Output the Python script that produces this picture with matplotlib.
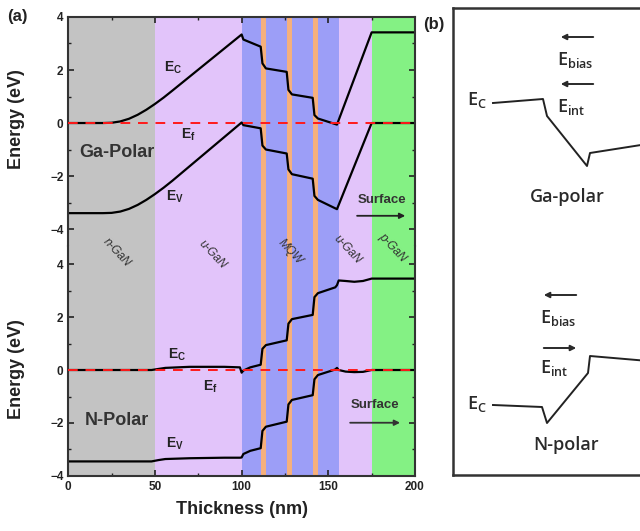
import matplotlib
matplotlib.use('Agg')
import matplotlib.pyplot as plt
from matplotlib.ticker import MultipleLocator

plt.rcParams['font.family'] = ['Liberation Sans', 'DejaVu Sans']
plt.rcParams['mathtext.fontset'] = 'custom'
plt.rcParams['mathtext.rm'] = 'Liberation Sans'
plt.rcParams['mathtext.bf'] = 'Liberation Sans:bold'
plt.rcParams['mathtext.sf'] = 'Open Sans:semibold'

# layer stack (nm)
layer_names = ['n-GaN', 'u-GaN', 'MQW', 'u-GaN', 'p-GaN']
layer_start = [0, 50, 100, 156, 175]
layer_end = [50, 100, 156, 175, 200]
layer_colors = ['#c3c3c3', '#e2c4fa', '#9c9ef7', '#e2c4fa', '#84f184']
well_start = [111, 126, 141]
well_end = [114, 129, 144]
well_color = '#f6b07c'
ef_level = 0.0

# Ga-polar band edges (eV)
ga_x = [0, 20, 25, 30, 35, 40, 45, 50, 55, 60, 100, 101, 111, 112, 114, 126, 127, 129, 141, 142, 144, 155, 175, 200]
ga_ec = [0, 0, 0.01, 0.06, 0.16, 0.31, 0.5, 0.72, 0.96, 1.22, 3.34, 3.15, 2.88, 2.25, 2.06, 1.93, 1.25, 1.08, 0.95, 0.3, 0.17, -0.06, 3.42, 3.42]
ga_ev = [-3.4, -3.4, -3.39, -3.34, -3.24, -3.09, -2.9, -2.68, -2.44, -2.18, 0.02, -0.08, -0.2, -0.85, -1.0, -1.15, -1.75, -1.93, -2.1, -2.75, -2.9, -3.25, 0.0, 0.0]

# N-polar band edges (eV)
n_x = [0, 48, 52, 56, 70, 90, 99, 100, 101, 105, 111, 112, 114, 126, 127, 129, 141, 142, 144, 154, 155, 156, 160, 165, 170, 175, 200]
n_ec = [0, 0, 0.04, 0.08, 0.12, 0.12, 0.1, -0.1, -0.02, 0.1, 0.2, 0.8, 0.94, 1.12, 1.75, 1.92, 2.08, 2.75, 2.9, 3.12, 3.2, 3.38, 3.36, 3.33, 3.36, 3.45, 3.45]
n_ev = [-3.45, -3.45, -3.4, -3.36, -3.33, -3.31, -3.31, -3.3, -3.17, -3.05, -2.95, -2.3, -2.14, -1.95, -1.3, -1.13, -0.95, -0.35, -0.19, 0.02, 0.08, 0.0, -0.06, -0.08, -0.07, 0.0, 0.0]

# schematic conduction band in panel (b), pixel-like units
ga_sketch_x = [493, 543, 547, 587, 590, 660]
ga_sketch_y = [103, 99, 116, 166, 153, 142]
n_sketch_x = [493, 542, 547, 588, 590, 660]
n_sketch_y = [405, 407, 423, 373, 356, 362]

dark = '#222222'

fig = plt.figure(figsize=(6.4, 5.31), dpi=100)
ax_top = fig.add_axes([0.1067, 0.5367, 0.5417, 0.4313])
ax_bot = fig.add_axes([0.1067, 0.1036, 0.5417, 0.4331])


def draw_panel(ax, x, ec, ev):
    for s, e, c in zip(layer_start, layer_end, layer_colors):
        ax.axvspan(s, e, color=c, lw=0, zorder=0)
    for s, e in zip(well_start, well_end):
        ax.axvspan(s, e, color=well_color, lw=0, zorder=0)
    ax.plot(x, ec, color='k', lw=1.6, zorder=2)
    ax.plot(x, ev, color='k', lw=1.6, zorder=2)
    ax.axhline(ef_level, color='#ff1a1a', lw=1.4, ls=(0, (5, 4)), zorder=3)
    ax.set_xlim(0, 200)
    ax.xaxis.set_major_locator(MultipleLocator(50))
    ax.xaxis.set_minor_locator(MultipleLocator(25))
    ax.yaxis.set_major_locator(MultipleLocator(2))
    ax.yaxis.set_minor_locator(MultipleLocator(1))
    ax.tick_params(which='both', direction='in', colors=dark, labelsize=8.5, right=True)
    ax.tick_params(which='major', length=4, width=1.2)
    ax.tick_params(which='minor', length=2.5, width=1)
    for lab in ax.get_xticklabels() + ax.get_yticklabels():
        lab.set_fontweight('bold')
    for sp in ax.spines.values():
        sp.set_linewidth(1.5)
        sp.set_color('#333333')
    ax.set_ylabel('Energy (eV)', fontsize=13, fontweight='bold', color=dark)


draw_panel(ax_top, ga_x, ga_ec, ga_ev)
ax_top.set_ylim(-4.64, 4)
ax_top.spines['bottom'].set_visible(False)
ax_top.tick_params(which='both', top=True, bottom=False, labelbottom=False)
ax_top.yaxis.set_label_coords(-0.125, 0.555)

draw_panel(ax_bot, n_x, n_ec, n_ev)
ax_bot.set_ylim(-4, 4.68)
ax_bot.spines['top'].set_visible(False)
ax_bot.tick_params(which='both', top=False)
ax_bot.yaxis.set_label_coords(-0.125, 0.463)
ax_bot.set_xlabel('Thickness (nm)', fontsize=13, fontweight='bold', color=dark, labelpad=6)
for lab in ax_bot.get_xticklabels() + ax_bot.get_yticklabels():
    lab.set_fontweight('bold')
for lab in ax_top.get_yticklabels():
    lab.set_fontweight('bold')

# labels on the Ga-polar panel
ax_top.text(60.5, 2.07, r'$\mathbf{E_C}$', fontsize=10, color=dark, ha='center', va='center')
ax_top.text(69, -0.44, r'$\mathbf{E_f}$', fontsize=10, color=dark, ha='center', va='center')
ax_top.text(61.5, -2.8, r'$\mathbf{E_V}$', fontsize=10, color=dark, ha='center', va='center')
ax_top.text(28, -1.12, 'Ga-Polar', fontsize=13, fontweight='bold', color='#333333', ha='center', va='center')
ax_top.text(181, -2.9, 'Surface', fontsize=9.5, fontweight='bold', color='#333333', ha='center', va='center')
ax_top.annotate('', xy=(196, -3.5), xytext=(165, -3.5),
                arrowprops=dict(arrowstyle='-|>', color='#222222', lw=1.3, mutation_scale=8))

# labels on the N-polar panel
ax_bot.text(62.6, 0.57, r'$\mathbf{E_C}$', fontsize=10, color=dark, ha='center', va='center')
ax_bot.text(81.7, -0.63, r'$\mathbf{E_f}$', fontsize=10, color=dark, ha='center', va='center')
ax_bot.text(61.5, -2.77, r'$\mathbf{E_V}$', fontsize=10, color=dark, ha='center', va='center')
ax_bot.text(28, -1.89, 'N-Polar', fontsize=13, fontweight='bold', color='#333333', ha='center', va='center')
ax_bot.text(177, -1.32, 'Surface', fontsize=9.5, fontweight='bold', color='#333333', ha='center', va='center')
ax_bot.annotate('', xy=(193, -1.99), xytext=(161, -1.99),
                arrowprops=dict(arrowstyle='-|>', color='#333333', lw=1.3, mutation_scale=8))

# rotated layer names across the two panels
name_x = [28, 83, 128, 161, 187]
name_y = [4.42, 4.34, 4.45, 4.53, 4.64]
for nm, xx, yy in zip(layer_names, name_x, name_y):
    ax_bot.text(xx, yy, nm, fontsize=8.5, style='italic', color='#333333', rotation=-47,
                ha='center', va='center', rotation_mode='anchor', clip_on=False, zorder=5)

fig.text(0.027, 0.968, '(a)', fontsize=12, fontweight='bold', color=dark, ha='center', va='center')
fig.text(0.678, 0.953, '(b)', fontsize=12, fontweight='bold', color=dark, ha='center', va='center')

# panel (b): schematic
ax_b = fig.add_axes([453 / 640, 1 - 475 / 531, (720 - 453) / 640, (475 - 8) / 531])
ax_b.set_xlim(453, 720)
ax_b.set_ylim(475, 8)
ax_b.set_xticks([])
ax_b.set_yticks([])
for sp in ax_b.spines.values():
    sp.set_linewidth(1.8)
    sp.set_color('#333333')

ax_b.plot(ga_sketch_x, ga_sketch_y, color='#222222', lw=1.4)
ax_b.plot(n_sketch_x, n_sketch_y, color='#222222', lw=1.4)

bcol = '#2a2a2a'
ax_b.text(467, 100, r'$\mathsf{E_C}$', fontsize=13, color=bcol, ha='left', va='center')
ax_b.text(557, 60, r'$\mathsf{E_{bias}}$', fontsize=13, color=bcol, ha='left', va='center')
ax_b.text(557, 107, r'$\mathsf{E_{int}}$', fontsize=13, color=bcol, ha='left', va='center')
ax_b.annotate('', xy=(558, 37), xytext=(596, 37),
              arrowprops=dict(arrowstyle='-|>', color=bcol, lw=1.4, mutation_scale=8))
ax_b.annotate('', xy=(558, 84), xytext=(596, 84),
              arrowprops=dict(arrowstyle='-|>', color=bcol, lw=1.4, mutation_scale=8))
ax_b.text(567, 197, 'Ga-polar', fontsize=13, fontweight='semibold', family='Open Sans', color=bcol,
          ha='center', va='center')

ax_b.text(467, 404, r'$\mathsf{E_C}$', fontsize=13, color=bcol, ha='left', va='center')
ax_b.text(540, 318, r'$\mathsf{E_{bias}}$', fontsize=13, color=bcol, ha='left', va='center')
ax_b.text(540, 368, r'$\mathsf{E_{int}}$', fontsize=13, color=bcol, ha='left', va='center')
ax_b.annotate('', xy=(541, 295), xytext=(579, 295),
              arrowprops=dict(arrowstyle='-|>', color=bcol, lw=1.4, mutation_scale=8))
ax_b.annotate('', xy=(579, 348), xytext=(541, 348),
              arrowprops=dict(arrowstyle='-|>', color=bcol, lw=1.4, mutation_scale=8))
ax_b.text(566, 445, 'N-polar', fontsize=13, fontweight='semibold', family='Open Sans', color=bcol,
          ha='center', va='center')

fig.savefig('out.png', dpi=100)
